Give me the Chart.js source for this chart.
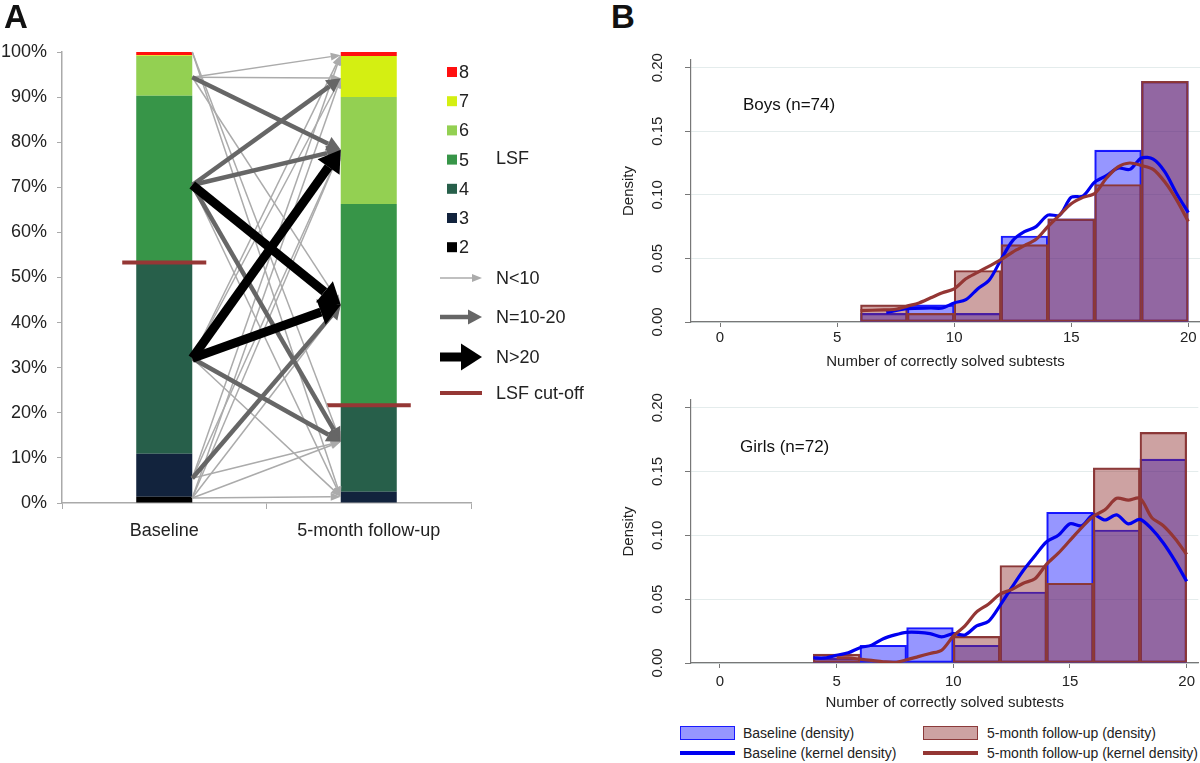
<!DOCTYPE html>
<html>
<head>
<meta charset="utf-8">
<script src="https://cdn.jsdelivr.net/npm/chart.js@4.4.0/dist/chart.umd.min.js"></script>
<style>
  body { margin: 0; background: #fff; font-family: "Liberation Sans", Arial, sans-serif; }
  #wrap { position: relative; width: 1200px; height: 763px; overflow: hidden; }
  canvas { position: absolute; }
  .lbl { position: absolute; white-space: nowrap; color: #111; }
  .panel { font-size: 33px; font-weight: bold; line-height: 1; }
  .note { font-size: 17px; line-height: 20px; }
  .leg { font-size: 14px; line-height: 18px; color: #222; }
  .swatch { position: absolute; box-sizing: border-box; }
</style>
</head>
<body>
<div id="wrap">
  <canvas id="chartA" width="600" height="550" style="left:0;top:0"></canvas>
  <canvas id="chartBoys" width="600" height="337" style="left:600px;top:38px"></canvas>
  <canvas id="chartGirls" width="600" height="338" style="left:600px;top:378px"></canvas>

  <div class="lbl panel" style="left:4px;top:0px">A</div>
  <div class="lbl panel" style="left:611px;top:0px">B</div>
  <div class="lbl note" style="left:743px;top:95px">Boys (n=74)</div>
  <div class="lbl note" style="left:740px;top:437px">Girls (n=72)</div>

  <div class="swatch" style="left:680px;top:726px;width:55px;height:14px;background:rgba(0,0,255,0.41);border:1.5px solid #1a1aff"></div>
  <div class="lbl leg" style="left:743px;top:724px">Baseline (density)</div>
  <div class="swatch" style="left:680px;top:751px;width:55px;height:4px;background:#0000f0"></div>
  <div class="lbl leg" style="left:743px;top:744px">Baseline (kernel density)</div>
  <div class="swatch" style="left:923px;top:726px;width:55px;height:14px;background:rgba(140,40,40,0.43);border:1.5px solid #8b3a3a"></div>
  <div class="lbl leg" style="left:987px;top:724px">5-month follow-up (density)</div>
  <div class="swatch" style="left:923px;top:751px;width:55px;height:4px;background:#943634"></div>
  <div class="lbl leg" style="left:987px;top:744px">5-month follow-up (kernel density)</div>
</div>
<script>
Chart.defaults.font.family = "'Liberation Sans', Arial, sans-serif";
Chart.defaults.color = '#222';

// ---- panel A: distribution of stages ----
const stageLabels = ['Baseline', '5-month follow-up'];
const levels = ['2', '3', '4', '5', '6', '7', '8'];
const levelColors = ['#000000', '#12233d', '#275f4a', '#379548', '#93d052', '#d4ef12', '#ff1010'];
const baselinePct = [1.4, 9.5, 42.3, 37.1, 8.8, 0.2, 0.7];
const followUpPct = [0, 2.5, 19.0, 44.8, 23.7, 9.1, 0.9];
const cutOffPct = [53.3, 21.7];
const percentTicks = [0, 10, 20, 30, 40, 50, 60, 70, 80, 90, 100];

// transitions baseline -> follow-up (positions in %), size class
const arrowFrom = [100, 100, 94.4, 94.4, 94.4, 70.5, 32.1, 32.1, 32.1, 5.5, 5.5, 5.5, 1.1, 1.1, 1.1, 1.1, 1.1,
                   94.4, 70.5, 70.5, 70.5, 32.1, 5.5,
                   70.5, 32.1, 32.1];
const arrowTo   = [13.6, 1.4, 99.3, 94.2, 43.9, 1.4, 99.3, 94.2, 1.4, 13.6, 78.3, 99.3, 1.4, 13.6, 43.9, 78.3, 94.2,
                   78.3, 94.2, 78.3, 13.6, 13.6, 43.9,
                   43.9, 78.3, 43.9];
const arrowSize = ['thin', 'thin', 'thin', 'thin', 'thin', 'thin', 'thin', 'thin', 'thin', 'thin', 'thin', 'thin', 'thin', 'thin', 'thin', 'thin', 'thin',
                   'mid', 'mid', 'mid', 'mid', 'mid', 'mid',
                   'thick', 'thick', 'thick'];

const arrowStyles = {
  thin:  { color: '#ababab', width: 1.5, head: 10, hw: 8 },
  mid:   { color: '#666666', width: 4.5, head: 14, hw: 15 },
  thick: { color: '#000000', width: 9, head: 21, hw: 27 }
};
const cutOffColor = '#953735';

function drawArrow(ctx, x1, y1, x2, y2, st) {
  const a = Math.atan2(y2 - y1, x2 - x1);
  const bx = x2 - st.head * Math.cos(a), by = y2 - st.head * Math.sin(a);
  ctx.strokeStyle = st.color;
  ctx.lineWidth = st.width;
  ctx.beginPath(); ctx.moveTo(x1, y1); ctx.lineTo(bx, by); ctx.stroke();
  ctx.fillStyle = st.color;
  ctx.beginPath();
  ctx.moveTo(x2, y2);
  ctx.lineTo(bx + st.hw / 2 * Math.sin(a), by - st.hw / 2 * Math.cos(a));
  ctx.lineTo(bx - st.hw / 2 * Math.sin(a), by + st.hw / 2 * Math.cos(a));
  ctx.closePath(); ctx.fill();
}

const flowPlugin = {
  id: 'flows',
  afterDatasetsDraw(chart) {
    const ctx = chart.ctx, y = chart.scales.y;
    const bars = chart.getDatasetMeta(3).data;
    const w = bars[0].width;
    const xFrom = bars[0].x + w / 2, xTo = bars[1].x - w / 2;
    ctx.save();
    // cut-off markers
    ctx.strokeStyle = cutOffColor; ctx.lineWidth = 4;
    cutOffPct.forEach((p, i) => {
      const py = y.getPixelForValue(p);
      ctx.beginPath();
      ctx.moveTo(bars[i].x - w / 2 - 14, py); ctx.lineTo(bars[i].x + w / 2 + 14, py);
      ctx.stroke();
    });
    ['thin', 'mid', 'thick'].forEach(size => {
      arrowFrom.forEach((f, i) => {
        if (arrowSize[i] !== size) return;
        drawArrow(ctx, xFrom, y.getPixelForValue(f), xTo, y.getPixelForValue(arrowTo[i]), arrowStyles[size]);
      });
    });

    // legend
    ctx.font = "18px 'Liberation Sans', Arial, sans-serif";
    ctx.textBaseline = 'middle';
    ctx.textAlign = 'left';
    for (let i = levels.length - 1, row = 0; i >= 0; i--, row++) {
      const ly = 72 + row * 29.2;
      ctx.fillStyle = levelColors[i];
      ctx.fillRect(447, ly - 5, 10, 10);
      ctx.fillStyle = '#222';
      ctx.fillText(levels[i], 459, ly + 1);
    }
    ctx.fillText('LSF', 496, 159);
    const keys = [['thin', 'N<10', 278], ['mid', 'N=10-20', 317], ['thick', 'N>20', 357]];
    keys.forEach(k => {
      drawArrow(ctx, 440, k[2], 482, k[2], arrowStyles[k[0]]);
      ctx.fillStyle = '#222';
      ctx.fillText(k[1], 496, k[2] + 1);
    });
    ctx.strokeStyle = cutOffColor; ctx.lineWidth = 4;
    ctx.beginPath(); ctx.moveTo(440, 393); ctx.lineTo(482, 393); ctx.stroke();
    ctx.fillStyle = '#222';
    ctx.fillText('LSF cut-off', 496, 394);
    ctx.restore();
  }
};

new Chart(document.getElementById('chartA'), {
  type: 'bar',
  data: {
    labels: stageLabels,
    datasets: levels.map((lv, i) => ({
      label: lv,
      data: [baselinePct[i], followUpPct[i]],
      backgroundColor: levelColors[i],
      categoryPercentage: 1,
      barPercentage: 0.274
    }))
  },
  options: {
    responsive: false,
    animation: false,
    layout: { padding: { left: 0, top: 52, right: 129, bottom: 0 } },
    plugins: { legend: { display: false }, tooltip: { enabled: false } },
    scales: {
      x: {
        stacked: true,
        grid: { display: true, offset: true, drawOnChartArea: false, tickLength: 6, color: '#aaaaaa' },
        border: { color: '#aaaaaa', width: 1.5 },
        ticks: { font: { size: 18 }, color: '#222', padding: 11 },
        afterFit: s => { s.height = 47; }
      },
      y: {
        stacked: true,
        min: 0, max: 100,
        afterBuildTicks: s => { s.ticks = percentTicks.map(v => ({ value: v })); },
        ticks: { callback: v => v + '%', font: { size: 18 }, color: '#222', padding: 10 },
        grid: { drawOnChartArea: false, tickLength: 5, color: '#aaaaaa' },
        border: { color: '#aaaaaa', width: 1.5 },
        afterFit: s => { s.width = 62; }
      }
    }
  },
  plugins: [flowPlugin]
});

// ---- panel B: histograms with kernel densities ----
const binCenters = [5, 7, 9, 11, 13, 15, 17, 19];
const boysBaseline = [null, 0.0068, 0.0135, 0.0068, 0.0676, 0.0811, 0.1351, 0.1892];
const boysFollowUp = [null, 0.0135, 0.0068, 0.0405, 0.0608, 0.0811, 0.1081, 0.1892];
const girlsBaseline = [0.0037, 0.0139, 0.0278, 0.0139, 0.0556, 0.1181, 0.1042, 0.1597];
const girlsFollowUp = [0.0069, null, null, 0.0208, 0.0764, 0.0625, 0.1528, 0.1806];

const boysBaseKx = [7.1, 8, 9, 9.5, 10, 10.5, 11, 11.5, 12, 12.5, 13, 13.5, 14, 14.5, 15, 15.5, 16, 16.5, 17, 17.5, 18, 18.5, 19, 19.5, 20];
const boysBaseKy = [0.0075, 0.0105, 0.011, 0.011, 0.015, 0.0175, 0.026, 0.033, 0.049, 0.064, 0.071, 0.075, 0.084, 0.084, 0.098, 0.099, 0.11, 0.115, 0.121, 0.12, 0.129, 0.128, 0.118, 0.101, 0.086];
const boysFuKx = [6, 7, 7.5, 8, 8.5, 9, 9.5, 10, 10.5, 11, 11.5, 12, 12.5, 13, 13.5, 14, 14.5, 15, 15.5, 16, 16.5, 17, 17.5, 18, 18.5, 19, 19.5, 20];
const boysFuKy = [0.009, 0.0095, 0.010, 0.0125, 0.015, 0.019, 0.023, 0.026, 0.034, 0.039, 0.044, 0.049, 0.055, 0.060, 0.065, 0.075, 0.084, 0.093, 0.098, 0.101, 0.113, 0.122, 0.125, 0.123, 0.120, 0.110, 0.096, 0.079];
const girlsBaseKx = [4, 4.5, 5, 5.5, 6, 6.5, 7, 7.5, 8, 8.5, 9, 9.5, 10, 10.5, 11, 11.5, 12, 12.5, 13, 13.5, 14, 14.5, 15, 15.5, 16, 16.5, 17, 17.5, 18, 18.5, 19, 19.5, 20];
const girlsBaseKy = [0.004, 0.004, 0.006, 0.008, 0.012, 0.014, 0.019, 0.022, 0.024, 0.024, 0.023, 0.0205, 0.023, 0.022, 0.029, 0.0325, 0.045, 0.059, 0.0725, 0.084, 0.095, 0.100, 0.109, 0.1075, 0.116, 0.112, 0.116, 0.109, 0.1125, 0.105, 0.094, 0.080, 0.064];
const girlsFuKx = [5, 5.5, 6, 6.5, 7, 7.5, 8, 8.5, 9, 9.5, 10, 10.5, 11, 11.5, 12, 12.5, 13, 13.5, 14, 14.5, 15, 15.5, 16, 16.5, 17, 17.5, 18, 18.5, 19, 19.5, 20];
const girlsFuKy = [0.004, 0.004, 0.003, 0.002, 0.001, 0.0005, 0.0025, 0.005, 0.0075, 0.010, 0.021, 0.029, 0.040, 0.046, 0.054, 0.0575, 0.0625, 0.066, 0.0775, 0.086, 0.096, 0.106, 0.115, 0.120, 0.129, 0.1275, 0.129, 0.114, 0.1075, 0.0975, 0.085];

const scoreTicks = [0, 5, 10, 15, 20];
const densityTicks = [0, 0.05, 0.10, 0.15, 0.20];

function pts(xs, ys) {
  return xs.map((x, i) => ({ x: x, y: ys[i] })).filter(p => p.y !== null);
}

function histChart(id, base, fu, bKx, bKy, fKx, fKy, tickPad) {
  const barOpts = { barPercentage: 1, categoryPercentage: 1, grouped: false, borderWidth: 1.5, borderSkipped: false };
  return new Chart(document.getElementById(id), {
    type: 'bar',
    data: {
      datasets: [
        { type: 'line', data: pts(fKx, fKy), borderColor: '#943634', borderWidth: 3.2, pointRadius: 0, tension: 0.3, order: 0 },
        { type: 'line', data: pts(bKx, bKy), borderColor: '#0000f0', borderWidth: 3.2, pointRadius: 0, tension: 0.3, order: 1 },
        Object.assign({ data: pts(binCenters, fu), backgroundColor: 'rgba(140,40,40,0.43)', borderColor: '#8b3a3a', order: 2 }, barOpts),
        Object.assign({ data: pts(binCenters, base), backgroundColor: 'rgba(0,0,255,0.41)', borderColor: '#1a1aff', order: 3 }, barOpts)
      ]
    },
    options: {
      responsive: false,
      animation: false,
      layout: { padding: { left: 16, top: 10, right: 0, bottom: 0 } },
      plugins: { legend: { display: false }, tooltip: { enabled: false } },
      scales: {
        x: {
          type: 'linear', min: -1.24, max: 20.5, offset: false,
          afterBuildTicks: s => { s.ticks = scoreTicks.map(v => ({ value: v })); },
          afterFit: s => { s.height = 53; },
          grid: { display: true, offset: false, drawOnChartArea: false, tickLength: 5, color: '#777' },
          border: { color: '#777', width: 1.2 },
          ticks: { font: { size: 15 }, color: '#222', padding: tickPad },
          title: { display: true, text: 'Number of correctly solved subtests', font: { size: 15 }, color: '#222', padding: { top: 0, bottom: 4 } }
        },
        y: {
          min: 0, max: 0.206,
          afterBuildTicks: s => { s.ticks = densityTicks.map(v => ({ value: v })); },
          afterFit: s => { s.width = 75; },
          grid: { color: '#e4ecec', tickColor: '#777', tickLength: 6 },
          border: { color: '#777', width: 1.2 },
          ticks: { minRotation: 90, maxRotation: 90, crossAlign: 'center', autoSkip: false, padding: 13,
                   font: { size: 15 }, color: '#222', callback: v => v.toFixed(2) },
          title: { display: true, text: 'Density', font: { size: 15 }, color: '#222' }
        }
      }
    }
  });
}

histChart('chartBoys', boysBaseline, boysFollowUp, boysBaseKx, boysBaseKy, boysFuKx, boysFuKy, 2);
histChart('chartGirls', girlsBaseline, girlsFollowUp, girlsBaseKx, girlsBaseKy, girlsFuKx, girlsFuKy, 5);
</script>
</body>
</html>
